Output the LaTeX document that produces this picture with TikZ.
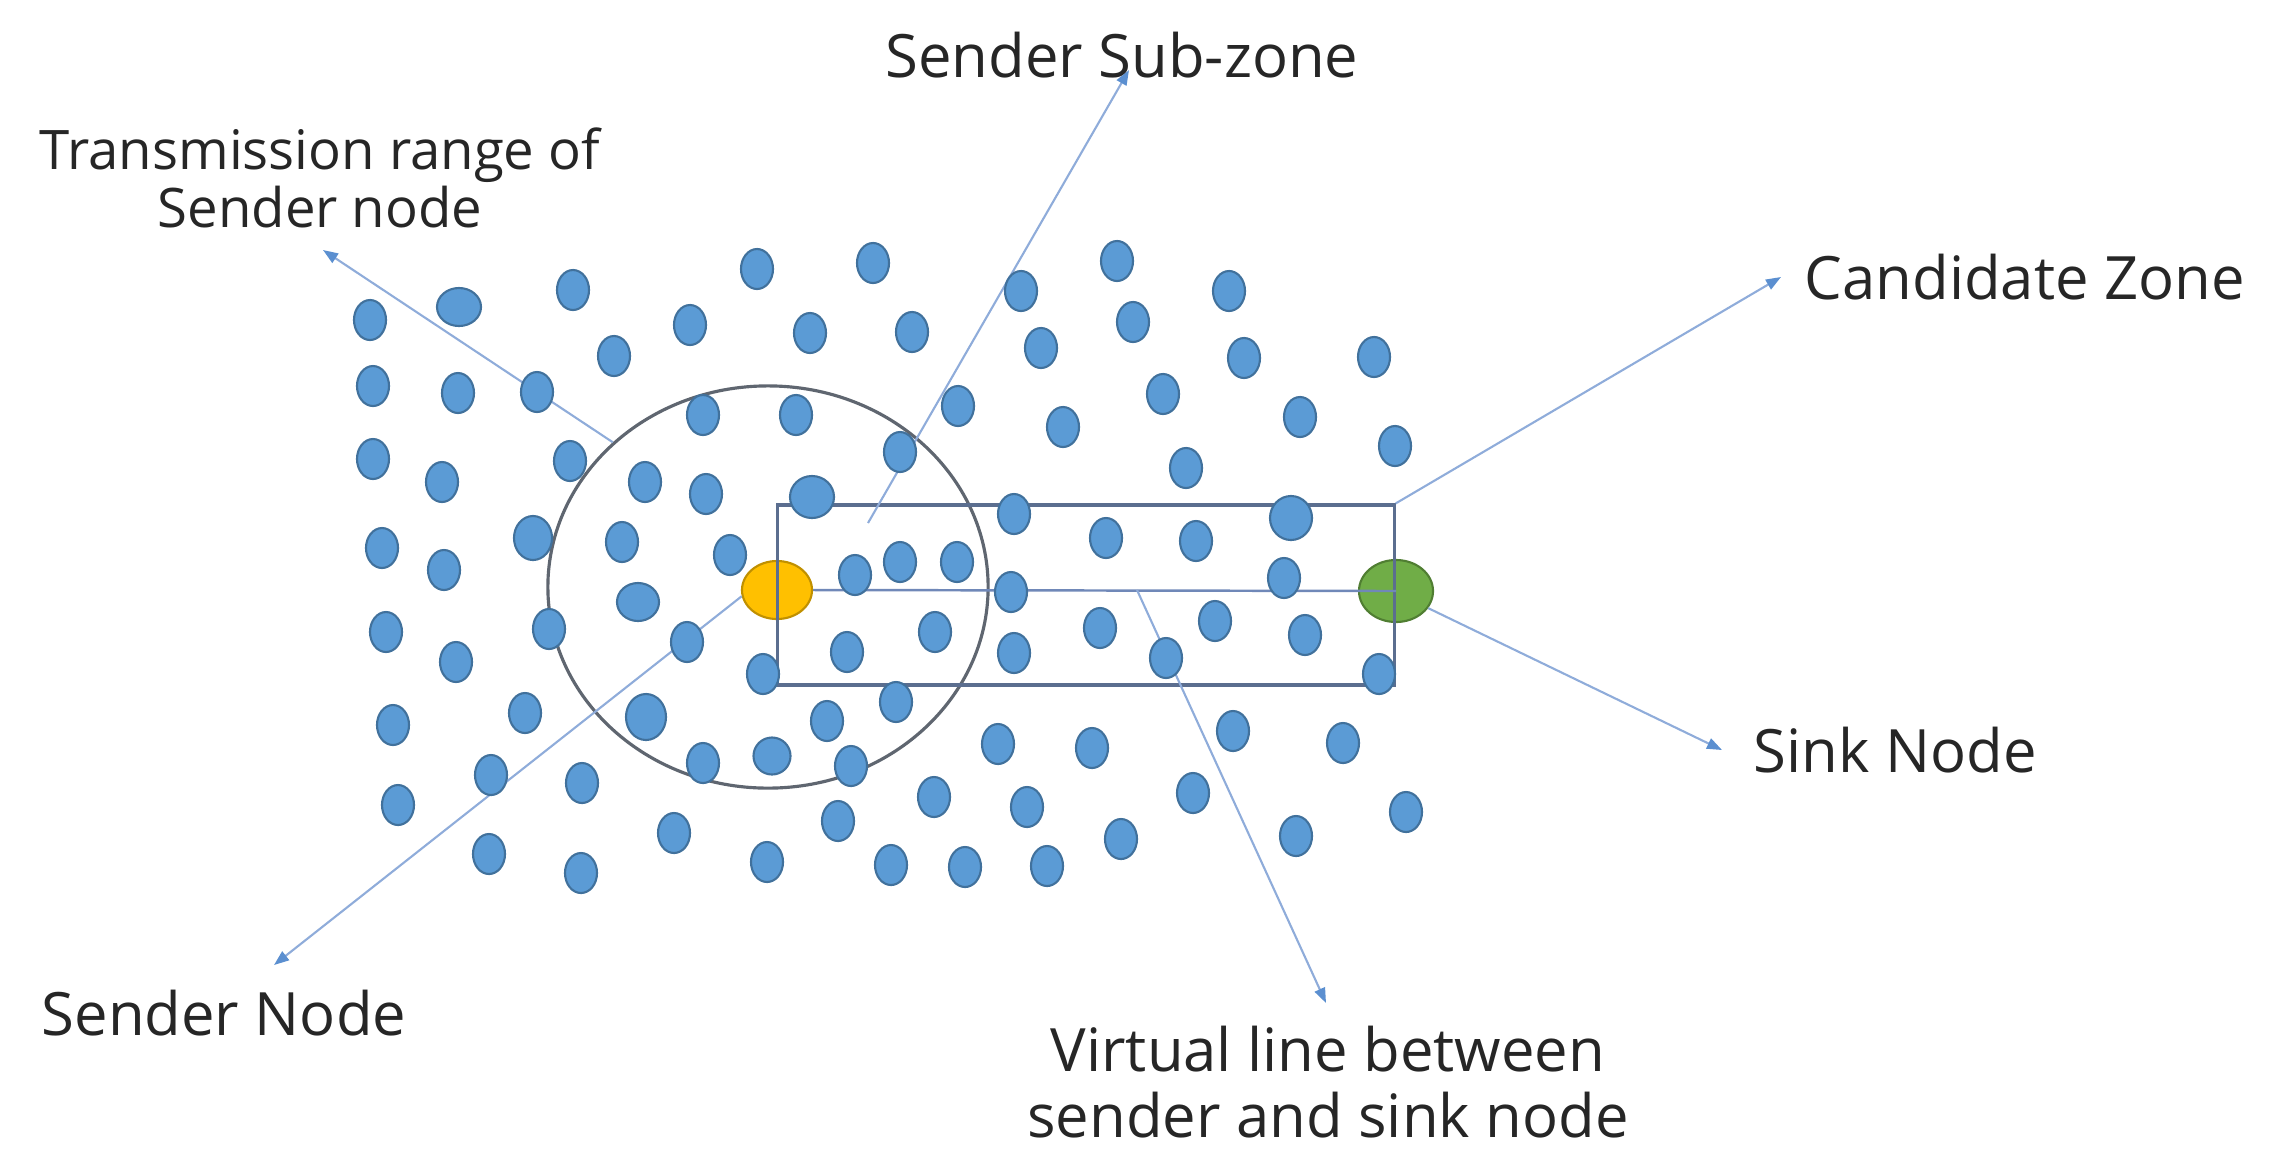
\documentclass[tikz,border=0pt]{standalone}
\usepackage{fontspec}
\setmainfont{Open Sans}
\usetikzlibrary{arrows.meta, shapes.geometric, positioning}
\definecolor{dotfill}{HTML}{5B9BD5}
\definecolor{dotline}{HTML}{41719C}
\definecolor{rangegray}{HTML}{5F6670}
\definecolor{zoneline}{HTML}{5B6E8F}
\definecolor{vline}{HTML}{7088B8}
\definecolor{pointer}{HTML}{8FACDA}
\definecolor{pointtip}{HTML}{5B8FD0}
\definecolor{sendfill}{HTML}{FFC000}
\definecolor{sendline}{HTML}{C09000}
\definecolor{sinkfill}{HTML}{70AD47}
\definecolor{sinkline}{HTML}{507E32}
\tikzset{
    dot/.style={ellipse, draw=dotline, fill=dotfill, line width=0.6pt, inner sep=0pt,
        minimum width=0.32cm, minimum height=0.40cm},
    bigdot/.style n args={2}{dot, minimum width=#1cm, minimum height=#2cm},
    label/.style={font=\fontsize{17}{19}\selectfont, text=black!85, inner sep=0pt, align=center},
    pointer/.style={draw=pointer, line width=0.6pt,
        -{Triangle[length=0.15cm, width=0.11cm, color=pointtip]}}
}

\begin{document}
\begin{tikzpicture}[x=0.01cm, y=-0.01cm]
    \useasboundingbox (0,0) rectangle (2285,1169);
    % sender and sink
    \node[ellipse, draw=sendline, fill=sendfill, line width=0.6pt, minimum width=0.70cm, minimum height=0.58cm] (snd) at (777,590) {};
    \node[ellipse, draw=sinkline, fill=sinkfill, line width=0.6pt, minimum width=0.74cm, minimum height=0.62cm] (sink) at (1396,591) {};
    % transmission range and candidate zone
    \node[ellipse, draw=rangegray, line width=0.9pt, minimum width=4.40cm, minimum height=4.02cm] (range) at (768,587) {};
    \node[draw=zoneline, line width=0.9pt, minimum width=6.16cm, minimum height=1.80cm] (zone) at (1086,595) {};
    \draw[vline, line width=0.7pt] (snd.east) -- (sink.center);

    % labels
    \node[label] (sub) at (1122,55) {Sender Sub-zone};
    \node[label, font=\fontsize{15.5}{16.5}\selectfont] (trans) at (320,178) {Transmission range of\\Sender node};
    \node[label, anchor=west] (cand) at (1804,277) {Candidate Zone};
    \node[label, anchor=west] (sinklbl) at (1753,750) {Sink Node};
    \node[label, anchor=west] (sndlbl) at (41,1013) {Sender Node};
    \node[label] (virt) at (1328,1082) {Virtual line between\\sender and sink node};

    \coordinate (subtip) at (1129,70);
    \coordinate (substart) at (868,523);
    \coordinate (transtip) at (323,250);
    \coordinate (candtip) at (1781,277);
    \coordinate (sinktip) at (1722,750);
    \coordinate (sndtip) at (274,965);
    \coordinate (vstart) at (1137,590);
    \coordinate (virttip) at (1326,1003);

    \draw[pointer] (range.137) -- (transtip);
    \draw[pointer] (substart) -- (subtip);
    \draw[pointer] (zone.north east) -- (candtip);
    \draw[pointer] (sink.-28) -- (sinktip);
    \draw[pointer] (snd.190) -- (sndtip);
    \draw[pointer] (vstart) -- (virttip);

    % sensor field
    \foreach \x/\y [count=\i] in {
        370/320, 573/290, 690/325, 614/356, 373/386, 458/393, 537/392, 703/415,
        373/459, 442/482, 570/461, 645/482, 706/494, 382/548, 444/570, 622/542,
        757/269, 873/263, 810/333, 912/332, 1021/291, 1041/348, 796/415, 958/406,
        1063/427, 900/452, 1014/514, 730/555, 855/575, 900/562, 957/562,
        1117/261, 1229/291, 1133/322, 1244/358, 1374/357, 1163/394, 1300/417, 1395/446,
        1186/468, 1106/538, 1196/541, 1284/578,
        386/632, 456/662, 549/629, 687/642, 393/725, 525/713, 703/763,
        398/805, 491/775, 582/783, 674/833, 489/854, 581/873,
        1011/592, 1100/628, 935/632, 847/652, 1014/653, 763/674, 896/702, 827/721,
        851/766, 998/744, 1092/748, 934/797, 1027/807, 838/821, 767/862, 891/865,
        965/867, 1047/866,
        1215/621, 1305/635, 1166/658, 1379/674, 1233/731, 1343/743, 1193/793,
        1121/839, 1296/836, 1406/812}
        \node[dot] (d\i) at (\x,\y) {};
    \node[bigdot={0.44}{0.38}] (b1) at (459,307) {};
    \node[bigdot={0.44}{0.42}] (b2) at (812,497) {};
    \node[bigdot={0.42}{0.44}] (b3) at (1291,518) {};
    \node[bigdot={0.38}{0.44}] (b4) at (533,538) {};
    \node[bigdot={0.42}{0.38}] (b5) at (638,602) {};
    \node[bigdot={0.40}{0.46}] (b6) at (646,717) {};
    \node[bigdot={0.37}{0.37}] (b7) at (772,756) {};
\end{tikzpicture}
\end{document}
